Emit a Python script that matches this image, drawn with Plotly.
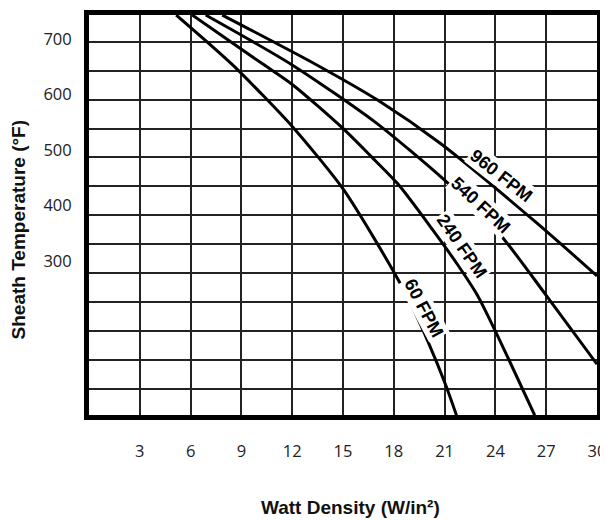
import plotly.graph_objects as go

# ---- data ----
watt_60 = [5.15, 8.45, 12.04, 14.95, 16.99, 18.84, 20.0, 21.07, 21.7]
temp_60 = [743, 654, 541, 432, 333, 233, 156, 76, 22]

watt_240 = [6.1, 10.2, 12.04, 14.95, 16.7, 18.26, 20.2, 21.75, 22.92, 23.99, 26.32]
temp_240 = [743, 656, 617, 540, 487, 438, 360, 294, 239, 174, 22]

watt_540 = [6.89, 11.95, 16.9, 20.98, 24.08, 27.0, 30.0]
temp_540 = [743, 654, 550, 446, 355, 238, 114]

watt_960 = [7.87, 13.4, 17.09, 20.78, 26.42, 30.0]
temp_960 = [743, 654, 589, 511, 369, 273]

series_names = ["60 FPM", "240 FPM", "540 FPM", "960 FPM"]
label_x = [19.76, 22.0, 23.11, 24.37]
label_y = [214.6, 326.3, 400.5, 453.9]
label_angle = [62, 55, 43, 38]

x_tickvals = [3, 6, 9, 12, 15, 18, 21, 24, 27, 30]
y_tickvals = [300, 400, 500, 600, 700]

# ---- figure ----
fig = go.Figure()
for xs, ys, name in zip([watt_60, watt_240, watt_540, watt_960],
                        [temp_60, temp_240, temp_540, temp_960], series_names):
    fig.add_trace(go.Scatter(x=xs, y=ys, mode="lines", name=name,
                             line=dict(color="black", width=3, shape="spline", smoothing=0.7),
                             showlegend=False, hoverinfo="skip"))

for lx, ly, la, name in zip(label_x, label_y, label_angle, series_names):
    fig.add_annotation(x=lx, y=ly, xref="x", yref="y", text=name, showarrow=False,
                       textangle=la, bgcolor="white", borderpad=1,
                       xanchor="center", yanchor="middle",
                       font=dict(family="Liberation Sans, Arial", size=18, color="black", weight="bold"))

fig.add_annotation(xref="paper", yref="paper", x=-0.1395, y=0.4617, text="Sheath Temperature (°F)",
                   textangle=-90, showarrow=False, xanchor="center", yanchor="middle",
                   font=dict(family="Liberation Sans, Arial", size=19, color="#111", weight="bold"))
fig.add_annotation(xref="paper", yref="paper", x=0.5147, y=-0.232, text="Watt Density (W/in²)",
                   showarrow=False, xanchor="center", yanchor="middle",
                   font=dict(family="Liberation Sans, Arial", size=19, color="#111", weight="bold"))

grid_col = "#222222"
fig.update_xaxes(range=[0, 30], tickmode="array", tickvals=x_tickvals,
                 ticktext=[str(v) for v in x_tickvals],
                 showgrid=True, gridcolor=grid_col, gridwidth=2,
                 showline=True, linecolor="black", linewidth=5, mirror=True,
                 ticks="", ticklabelstandoff=17, zeroline=False, ticklabeloverflow="allow",
                 tickfont=dict(family="Open Sans", size=16.5, color="#222"))
fig.update_yaxes(range=[22.4, 743.1], tickmode="array", tickvals=y_tickvals,
                 ticktext=[str(v) for v in y_tickvals],
                 showgrid=False,
                 minor=dict(tickmode="linear", tick0=70, dtick=52.05, showgrid=True,
                            gridcolor=grid_col, gridwidth=2, ticks=""),
                 showline=True, linecolor="black", linewidth=5, mirror=True,
                 ticks="", ticklabelstandoff=9, zeroline=False,
                 tickfont=dict(family="Open Sans", size=16.5, color="#222"))

fig.update_layout(width=600, height=512, margin=dict(l=81, r=10, t=2, b=105),
                  plot_bgcolor="white", paper_bgcolor="white")

fig.write_html("out.html")
